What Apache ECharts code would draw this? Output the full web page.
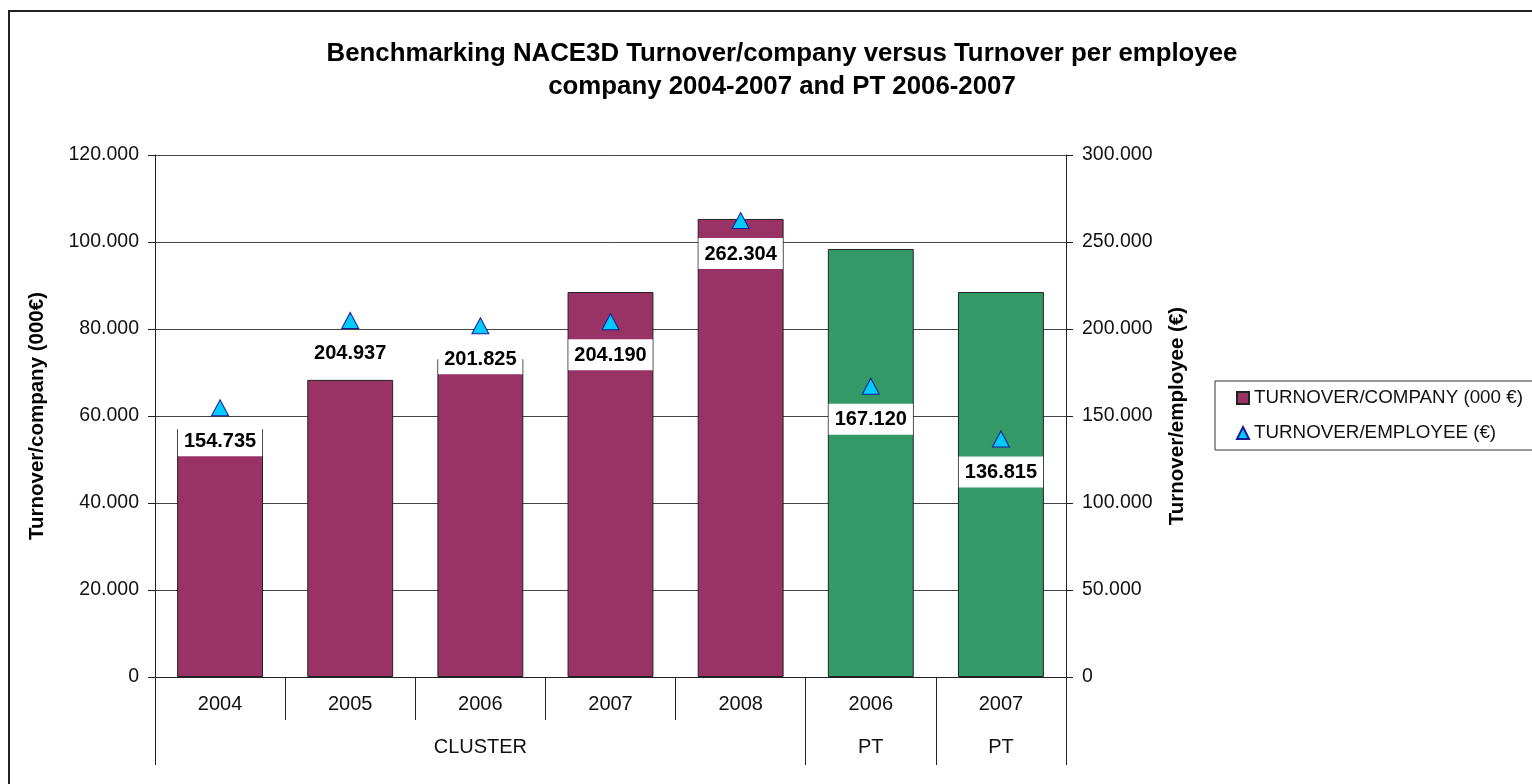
<!DOCTYPE html>
<html>
<head>
<meta charset="utf-8">
<title>Benchmarking NACE3D</title>
<script src="https://cdn.jsdelivr.net/npm/echarts@6/dist/echarts.min.js"></script>
<style>
  html, body { margin: 0; padding: 0; background: #fff; }
  #frame {
    position: absolute; left: 8px; top: 10px; width: 1600px; height: 900px;
    border-left: 2px solid #222; border-top: 2px solid #222; box-sizing: border-box;
  }
  #chart { position: absolute; left: 0; top: 0; width: 1532px; height: 784px; }
</style>
</head>
<body>
<div id="frame"></div>
<div id="chart"></div>
<script>
// categories (year) and their outer groups
const years = ['2004', '2005', '2006', '2007', '2008', '2006', '2007'];
const groupNames = ['CLUSTER', 'PT', 'PT'];
const groupSpans = [5, 1, 1];

// series values
const turnoverCompany = [57000, 68300, 73100, 88500, 105300, 98400, 88500];
const turnoverEmployee = [154735, 204937, 201825, 204190, 262304, 167120, 136815];

// axis ticks
const leftTicks = [0, 20000, 40000, 60000, 80000, 100000, 120000];
const rightTicks = [0, 50000, 100000, 150000, 200000, 250000, 300000];

const groupColor = { CLUSTER: '#993366', PT: '#339966' };
const fontFamily = '"Liberation Sans", Arial, sans-serif';

// 120000 -> "120.000"
function fmt(v) {
  return String(v).replace(/\B(?=(\d{3})+(?!\d))/g, '.');
}

// group boundaries / centres along the category range
const bounds = [0];
const centres = [];
groupSpans.forEach((s, i) => {
  centres.push(bounds[i] + s / 2);
  bounds.push(bounds[i] + s);
});
const groupOf = [];
groupNames.forEach((g, i) => {
  for (let k = 0; k < groupSpans[i]; k++) groupOf.push(g);
});

const chart = echarts.init(document.getElementById('chart'));

const option = {
  animation: false,
  textStyle: { fontFamily: fontFamily },
  title: {
    text: 'Benchmarking NACE3D Turnover/company versus Turnover per employee\ncompany 2004-2007 and PT 2006-2007',
    left: 777,
    top: 32,
    textAlign: 'center',
    textStyle: {
      fontFamily: fontFamily, fontSize: 25.8, fontWeight: 'bold',
      color: '#000', lineHeight: 33
    }
  },
  legend: {
    orient: 'vertical',
    left: 1215,
    top: 381,
    padding: [6, 10, 6, 21],
    itemGap: 13,
    itemWidth: 12,
    itemHeight: 12,
    borderColor: '#333',
    borderWidth: 1,
    textStyle: { fontFamily: fontFamily, fontSize: 18.8, color: '#111', lineHeight: 22 },
    data: [
      { name: 'TURNOVER/COMPANY (000 €)', icon: 'rect' },
      { name: 'TURNOVER/EMPLOYEE (€)', icon: 'triangle' }
    ]
  },
  grid: { left: 155, right: 466, top: 155, bottom: 107 },
  xAxis: [
    {
      type: 'category',
      data: years,
      position: 'bottom',
      axisLine: { lineStyle: { color: '#222', width: 1 } },
      axisTick: { show: true, interval: 0, length: 43, lineStyle: { color: '#222' } },
      axisLabel: { interval: 0, margin: 17, fontSize: 20, color: '#111' }
    },
    {
      type: 'value',
      min: 0,
      max: years.length,
      position: 'bottom',
      axisLine: { show: false },
      splitLine: { show: false },
      axisTick: {
        show: true, length: 88, customValues: bounds,
        lineStyle: { color: '#222' }
      },
      axisLabel: {
        margin: 60, fontSize: 20, color: '#111', customValues: centres,
        formatter: (v) => groupNames[centres.indexOf(v)]
      }
    }
  ],
  yAxis: [
    {
      type: 'value',
      position: 'left',
      min: 0, max: 120000, interval: 20000,
      name: 'Turnover/company (000€)',
      nameLocation: 'middle',
      nameRotate: 90,
      nameGap: 107,
      nameTextStyle: { fontSize: 20.5, fontWeight: 'bold', color: '#000' },
      axisLine: { show: true, lineStyle: { color: '#222' } },
      axisTick: { show: true, length: 7, lineStyle: { color: '#222' } },
      axisLabel: {
        fontSize: 19.5, color: '#111', margin: 16,
        customValues: leftTicks, formatter: fmt
      },
      splitLine: { show: true, lineStyle: { color: '#444', width: 1 } }
    },
    {
      type: 'value',
      position: 'right',
      min: 0, max: 300000, interval: 50000,
      name: 'Turnover/employee (€)',
      nameLocation: 'middle',
      nameRotate: 90,
      nameGap: 101,
      nameTextStyle: { fontSize: 20.5, fontWeight: 'bold', color: '#000' },
      axisLine: { show: true, lineStyle: { color: '#222' } },
      axisTick: { show: true, length: 7, lineStyle: { color: '#222' } },
      axisLabel: {
        fontSize: 19.5, color: '#111', margin: 16,
        customValues: rightTicks, formatter: fmt
      },
      splitLine: { show: false }
    }
  ],
  series: [
    {
      name: 'TURNOVER/COMPANY (000 €)',
      type: 'bar',
      xAxisIndex: 0,
      yAxisIndex: 0,
      barWidth: '66%',
      itemStyle: { color: groupColor.CLUSTER, borderColor: '#222', borderWidth: 1 },
      data: turnoverCompany.map((v, i) => ({
        value: v,
        itemStyle: { color: groupColor[groupOf[i]] }
      }))
    },
    {
      name: 'TURNOVER/EMPLOYEE (€)',
      type: 'scatter',
      xAxisIndex: 0,
      yAxisIndex: 1,
      symbol: 'triangle',
      symbolSize: [17, 16],
      itemStyle: { color: '#00CCFF', borderColor: '#1a1a99', borderWidth: 1, opacity: 1 },
      label: {
        show: true,
        position: 'bottom',
        distance: 9,
        formatter: (p) => fmt(p.value),
        backgroundColor: '#fff',
        padding: [6, 6, 5, 6],
        fontSize: 20,
        fontWeight: 'bold',
        color: '#000'
      },
      z: 5,
      data: turnoverEmployee
    }
  ]
};

chart.setOption(option);
</script>
</body>
</html>
